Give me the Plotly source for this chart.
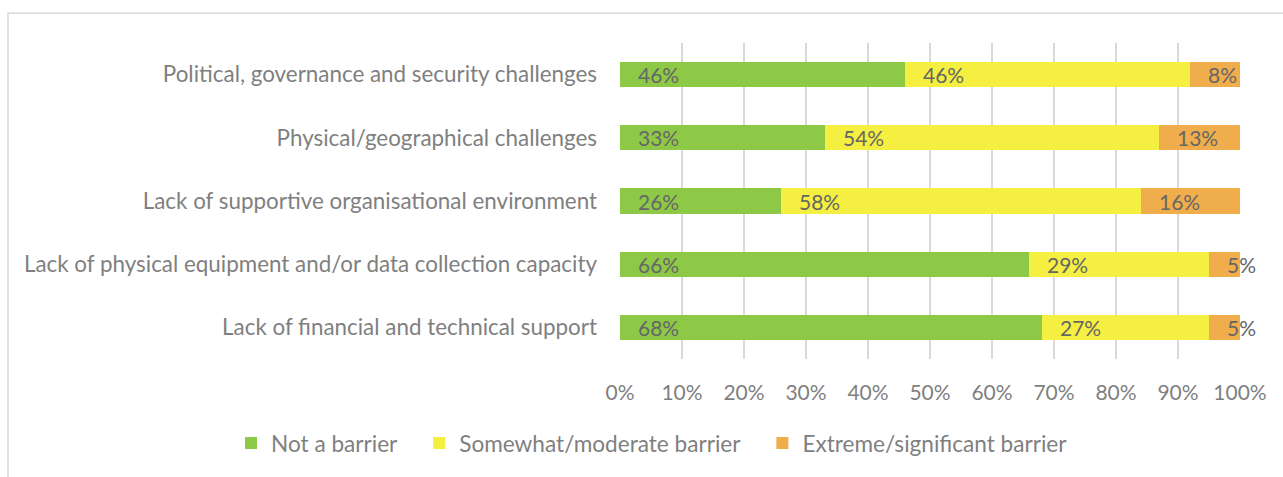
import plotly.graph_objects as go

# Barrier categories (top to bottom as displayed)
categories = [
    "Political, governance and security challenges",
    "Physical/geographical challenges",
    "Lack of supportive organisational environment",
    "Lack of physical equipment and/or data collection capacity",
    "Lack of financial and technical support",
]
series_names = ["Not a barrier", "Somewhat/moderate barrier", "Extreme/significant barrier"]
not_barrier = [46, 33, 26, 66, 68]
moderate_barrier = [46, 54, 58, 29, 27]
significant_barrier = [8, 13, 16, 5, 5]
tick_values = [0, 10, 20, 30, 40, 50, 60, 70, 80, 90, 100]
tick_labels = ["0%", "10%", "20%", "30%", "40%", "50%", "60%", "70%", "80%", "90%", "100%"]

colors = ["#8DC946", "#F4EF41", "#F0AD4B"]
label_color = "#666666"
axis_text = "#7F7F7F"
font_family = "Lato, 'Open Sans', sans-serif"

W, H = 1283, 477
L, R, T, B = 620, 43, 43, 115

# trailing no-break spaces widen the gap between legend entries
entry_pad = "\u00a0" * 3

fig = go.Figure()
values = [not_barrier, moderate_barrier, significant_barrier]
for name, vals, col in zip(series_names, values, colors):
    fig.add_trace(go.Bar(
        y=categories, x=vals, name=name + entry_pad, orientation="h",
        marker=dict(color=col, line=dict(width=0)),
        hovertemplate=name + ": %{x}%<extra></extra>",
    ))

# Value labels at the base of each segment
annotations = []
for i, cat in enumerate(categories):
    start = 0
    for vals in values:
        v = vals[i]
        annotations.append(dict(
            x=start, y=cat, xref="x", yref="y", text=f"{v}%",
            showarrow=False, xanchor="left", yanchor="middle", xshift=16,
            font=dict(family=font_family, size=21, color=label_color),
        ))
        start += v

pw = W - L - R
ph = H - T - B
fig.update_layout(
    width=W, height=H,
    margin=dict(l=L, r=R, t=T, b=B, pad=0),
    barmode="stack", bargap=0.6,
    paper_bgcolor="white", plot_bgcolor="white",
    font=dict(family=font_family, size=22, color=axis_text),
    xaxis=dict(
        range=[0, 100], tickvals=tick_values, ticktext=tick_labels,
        showgrid=True, gridcolor="#D9D9D9", gridwidth=2,
        zeroline=False, showline=False, ticks="", ticklabelstandoff=19,
        tickfont=dict(size=21, color=axis_text), fixedrange=True,
    ),
    yaxis=dict(
        autorange="reversed", showgrid=False, zeroline=False, showline=False,
        ticks="", ticklabelstandoff=22, tickfont=dict(size=22.4, color=axis_text),
        fixedrange=True,
    ),
    legend=dict(
        orientation="h", x=(231 - L) / pw, xanchor="left",
        y=(H - B - 447) / ph, yanchor="middle",
        font=dict(size=22.6, color=axis_text), traceorder="normal",
        bgcolor="rgba(0,0,0,0)",
    ),
    annotations=annotations,
    shapes=[dict(
        type="rect", xref="paper", yref="paper",
        x0=(8 - L) / pw, x1=(W + 20 - L) / pw,
        y0=(H - B - (H + 20)) / ph, y1=(H - B - 13) / ph,
        line=dict(color="#D9D9D9", width=1.5), layer="below",
    )],
)

fig.write_html("out.html")
